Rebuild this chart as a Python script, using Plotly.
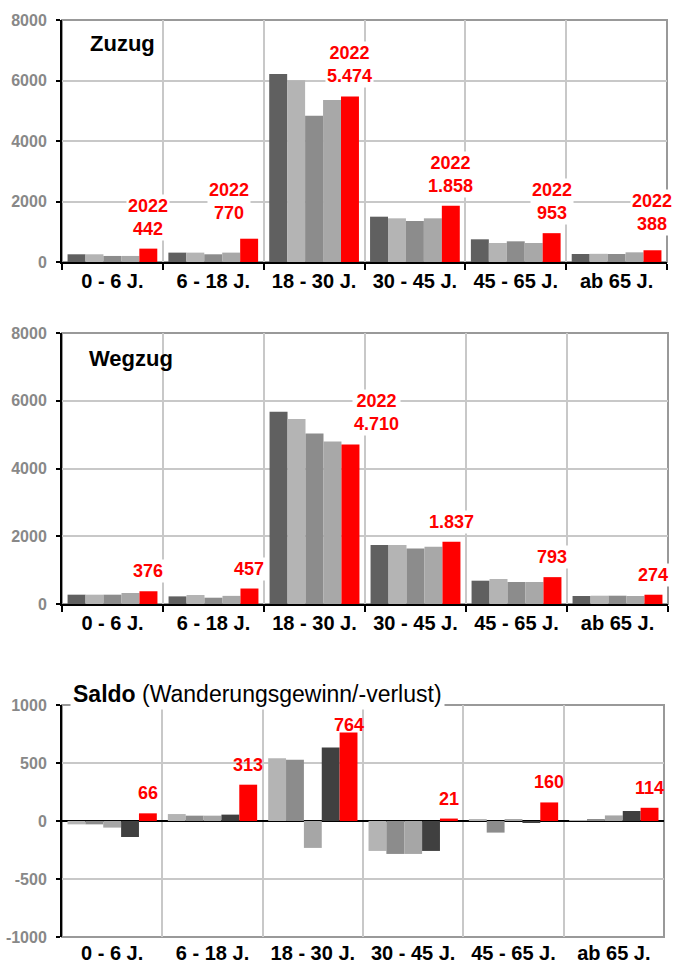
import plotly.graph_objects as go

# ---------------- data ----------------
categories = ["0 - 6 J.", "6 - 18 J.", "18 - 30 J.", "30 - 45 J.", "45 - 65 J.", "ab 65 J."]
years = ["2018", "2019", "2020", "2021", "2022"]

zuzug_2018 = [255, 310, 6215, 1498, 750, 264]
zuzug_2019 = [255, 310, 6006, 1444, 628, 270]
zuzug_2020 = [200, 255, 4836, 1355, 684, 264]
zuzug_2021 = [200, 310, 5355, 1444, 628, 320]
zuzug_2022 = [442, 770, 5474, 1858, 953, 388]

wegzug_2018 = [275, 225, 5677, 1741, 688, 236]
wegzug_2019 = [275, 265, 5461, 1741, 738, 245]
wegzug_2020 = [275, 186, 5036, 1641, 649, 245]
wegzug_2021 = [325, 240, 4800, 1692, 649, 236]
wegzug_2022 = [376, 457, 4710, 1837, 793, 274]

saldo_2018 = [-29, 60, 542, -258, 10, 2]
saldo_2019 = [-29, 46, 527, -284, -100, 12]
saldo_2020 = [-57, 46, -232, -284, 10, 48]
saldo_2021 = [-138, 55, 633, -258, -17, 86]
saldo_2022 = [66, 313, 764, 21, 160, 114]

y_tickvals_top = [0, 2000, 4000, 6000, 8000]
y_ticktext_top = ["0", "2000", "4000", "6000", "8000"]
y_tickvals_saldo = [-1000, -500, 0, 500, 1000]
y_ticktext_saldo = ["-1000", "-500", "0", "500", "1000"]

# ---------------- style ----------------
FONT = "Liberation Sans, Arial, sans-serif"
colors_main = ["#606060", "#b4b4b4", "#8c8c8c", "#a8a8a8", "#ff0000"]
colors_saldo = ["#b4b4b4", "#8c8c8c", "#a6a6a6", "#404040", "#ff0000"]
GRID = "#c8c8c8"
BORDER = "#999999"
BARGAP = 0.11

W, H = 674, 965
ML, MR, MT, MB = 62, 6, 20, 28
PW, PH = W - ML - MR, H - MT - MB


def py(pix):
    return (H - MB - pix) / PH


def px(pix):
    return (pix - ML) / PW


dom_top = [py(262), 1.0]
dom_mid = [py(604), py(333)]
dom_bot = [0.0, py(705)]
xdom_top = [0, px(667)]
xdom_mid = [0, 1]
xdom_bot = [0, px(664)]

fig = go.Figure()

panels = [
    ("x", "y", [zuzug_2018, zuzug_2019, zuzug_2020, zuzug_2021, zuzug_2022], colors_main),
    ("x2", "y2", [wegzug_2018, wegzug_2019, wegzug_2020, wegzug_2021, wegzug_2022], colors_main),
    ("x3", "y3", [saldo_2018, saldo_2019, saldo_2020, saldo_2021, saldo_2022], colors_saldo),
]
for xa, ya, series, cols in panels:
    for yr, vals, c in zip(years, series, cols):
        fig.add_trace(go.Bar(x=categories, y=vals, name=yr, xaxis=xa, yaxis=ya,
                             marker=dict(color=c, line=dict(width=0)), showlegend=False))


def fmt(v):
    return f"{v:,}".replace(",", ".")


# red value labels
group_w = 1 - BARGAP
bar_w = group_w / len(years)
red_off = -group_w / 2 + bar_w * (len(years) - 0.5)

zuz_nudge = {1: (-20, 6), 5: (0, 6)}
weg_nudge = {2: (26, 0)}
sal_nudge = {2: (0, -13)}

for i, v in enumerate(zuzug_2022):
    dx, dy = zuz_nudge.get(i, (0, 0))
    fig.add_annotation(x=i + red_off, y=v, xref="x", yref="y", text=f"<b>2022<br>{fmt(v)}</b>",
                       showarrow=False, yanchor="bottom", xshift=dx, yshift=8 + dy,
                       font=dict(family=FONT, size=18, color="#ff0000"), bgcolor="white",
                       borderpad=1)
for i, v in enumerate(wegzug_2022):
    dx, dy = weg_nudge.get(i, (0, 0))
    t = f"<b>2022<br>{fmt(v)}</b>" if i == 2 else f"<b>{fmt(v)}</b>"
    fig.add_annotation(x=i + red_off, y=v, xref="x2", yref="y2", text=t,
                       showarrow=False, yanchor="bottom", xshift=dx, yshift=8 + dy,
                       font=dict(family=FONT, size=18, color="#ff0000"), bgcolor="white",
                       borderpad=1)
for i, v in enumerate(saldo_2022):
    dx, dy = sal_nudge.get(i, (0, 0))
    fig.add_annotation(x=i + red_off, y=v, xref="x3", yref="y3", text=f"<b>{fmt(v)}</b>",
                       showarrow=False, yanchor="bottom", xshift=dx, yshift=8 + dy,
                       font=dict(family=FONT, size=18, color="#ff0000"))

# panel titles
fig.add_annotation(x=px(88), y=py(43), xref="paper", yref="paper", text="<b>Zuzug</b>",
                   showarrow=False, xanchor="left", yanchor="middle",
                   font=dict(family=FONT, size=22, color="black"))
fig.add_annotation(x=px(87), y=py(358), xref="paper", yref="paper", text="<b>Wegzug</b>",
                   showarrow=False, xanchor="left", yanchor="middle",
                   font=dict(family=FONT, size=22, color="black"))
fig.add_annotation(x=px(70), y=py(694), xref="paper", yref="paper",
                   text="<b>Saldo</b> (Wanderungsgewinn/-verlust)",
                   showarrow=False, xanchor="left", yanchor="middle", bgcolor="white", borderpad=2,
                   font=dict(family=FONT, size=23, color="black"))

# borders (grey frame)
for xa, ya in [("x", "y"), ("x2", "y2"), ("x3", "y3")]:
    fig.add_shape(type="rect", xref=f"{xa} domain", yref=f"{ya} domain", x0=0, x1=1, y0=0, y1=1,
                  line=dict(color=BORDER, width=2), layer="below")

xcommon = dict(type="category", categoryorder="array", categoryarray=categories,
               range=[-0.5, 5.5], tickson="boundaries", showgrid=True, gridcolor=GRID,
               gridwidth=1.5, ticks="outside", ticklen=6, tickwidth=2, tickcolor="black",
               tickfont=dict(family=FONT, size=20, color="black", weight="bold"),
               zeroline=False, fixedrange=True, automargin=False)
ycommon = dict(showline=True, linecolor="black", linewidth=2, ticks="outside", ticklen=4,
               tickwidth=2, tickcolor="black", showgrid=True, gridcolor=GRID, gridwidth=1.5,
               tickfont=dict(family=FONT, size=16, color="#888888", weight="bold"),
               ticklabelstandoff=6, automargin=False)

fig.update_layout(
    width=W, height=H, margin=dict(l=ML, r=MR, t=MT, b=MB, autoexpand=False),
    paper_bgcolor="white", plot_bgcolor="white", showlegend=False,
    barmode="group", bargap=BARGAP, bargroupgap=0,
    xaxis=dict(**xcommon, domain=xdom_top, anchor="y", showline=True, linecolor="black", linewidth=2),
    xaxis2=dict(**xcommon, domain=xdom_mid, anchor="y2", showline=True, linecolor="black", linewidth=2),
    xaxis3=dict(**{**xcommon, "ticks": "", "ticklabelstandoff": 2}, domain=xdom_bot, anchor="y3",
                showline=False),
    xaxis4=dict(type="category", categoryorder="array", categoryarray=categories,
                range=[-0.5, 5.5], tickson="boundaries", overlaying="x3", anchor="free",
                position=(dom_bot[0] + dom_bot[1]) / 2, domain=xdom_bot, automargin=False,
                showgrid=False, showline=False, zeroline=False, ticks="outside", ticklen=6,
                tickwidth=2, tickcolor="black", showticklabels=False),
    yaxis=dict(**ycommon, domain=dom_top, anchor="x", range=[0, 8000],
               tickvals=y_tickvals_top, ticktext=y_ticktext_top, zeroline=False),
    yaxis2=dict(**ycommon, domain=dom_mid, anchor="x2", range=[0, 8000],
                tickvals=y_tickvals_top, ticktext=y_ticktext_top, zeroline=False),
    yaxis3=dict(**ycommon, domain=dom_bot, anchor="x3", range=[-1000, 1000],
                tickvals=y_tickvals_saldo, ticktext=y_ticktext_saldo,
                zeroline=True, zerolinecolor="black", zerolinewidth=2),
)

fig.write_html("out.html", config={"displayModeBar": False},
               post_script="document.body.style.margin='0px';document.body.style.overflow='hidden';")
